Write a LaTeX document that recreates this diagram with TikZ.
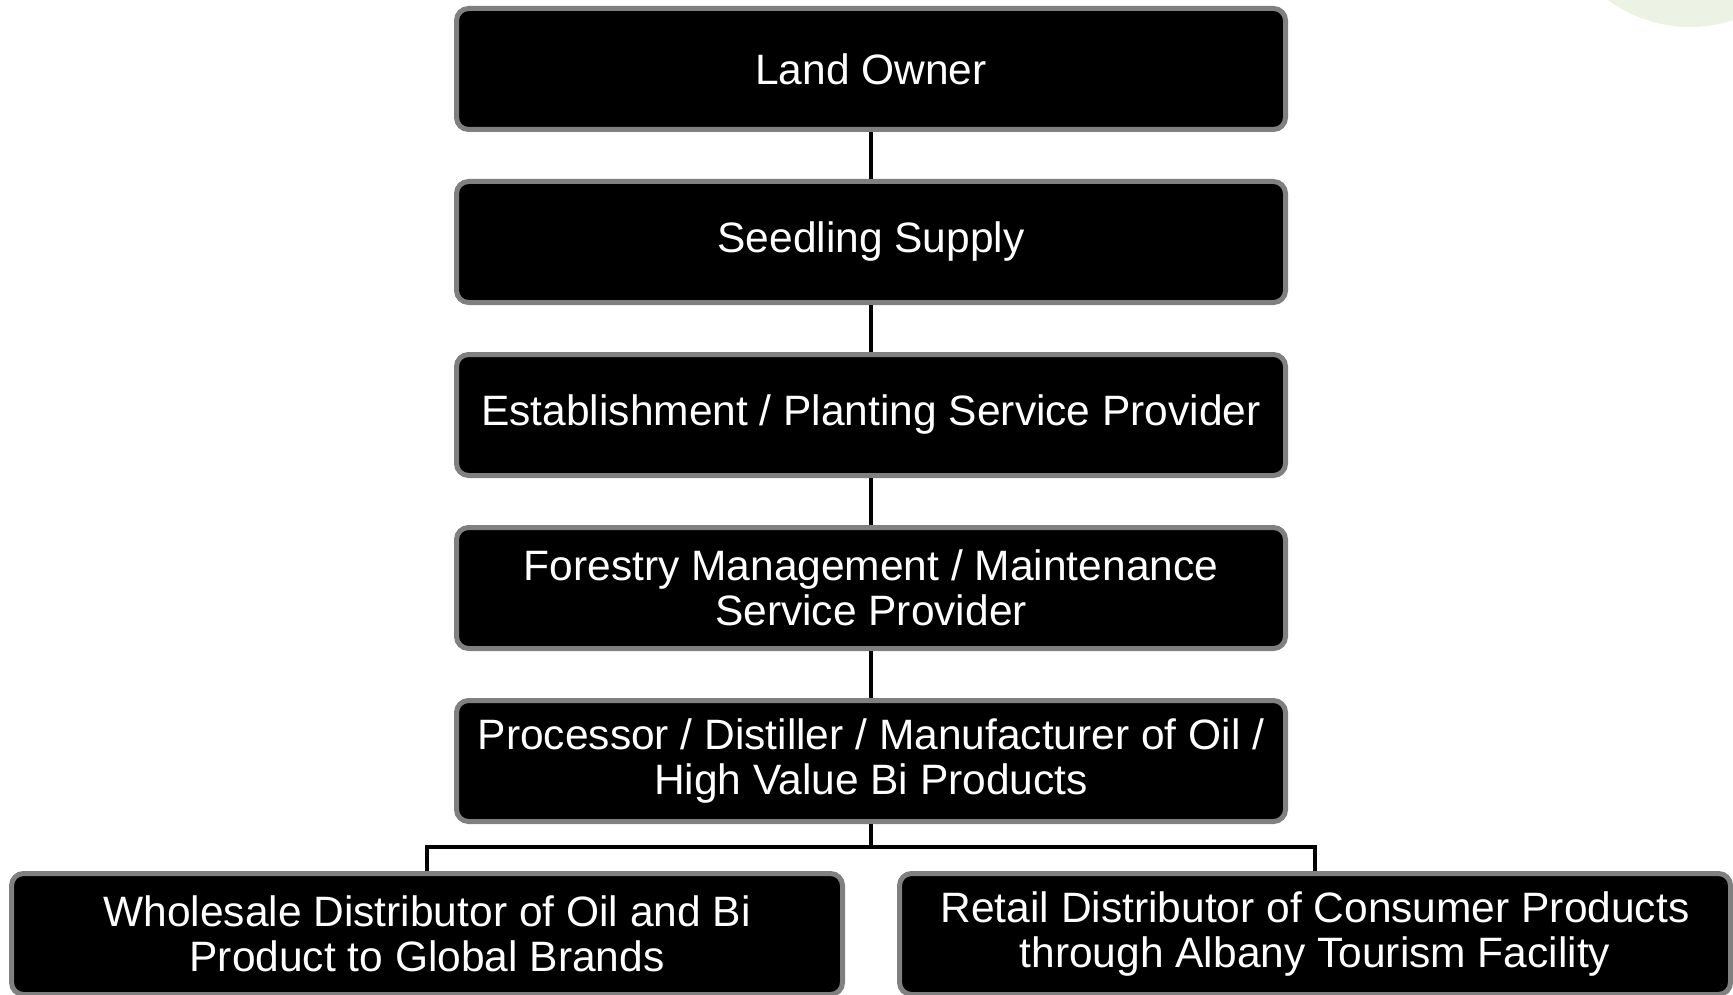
\documentclass[tikz,border=0pt]{standalone}
\usepackage{fontspec}
\setmainfont{Liberation Sans}
\usepackage{xcolor}
\usepackage{tikz}
\usetikzlibrary{positioning}
\definecolor{leafgreen}{RGB}{236,242,228}
\definecolor{rimgrey}{RGB}{128,128,128}

\begin{document}
\begin{tikzpicture}[x=1pt, y=1pt, node distance=47pt,
  chainbox/.style={draw=rimgrey, line width=5pt, fill=black, rounded corners=12pt,
    text=white, align=center, minimum width=829pt, minimum height=121pt,
    font=\fontsize{42.5}{44.5}\selectfont},
  link/.style={line width=4pt}]
\clip (0,0) rectangle (1733,-995);
\fill[leafgreen] (1690,111) circle (138);
\node[chainbox] (owner) at (871,-69) {Land Owner};
\node[chainbox] (seedling) [below=of owner] {Seedling Supply};
\node[chainbox] (planting) [below=of seedling] {Establishment / Planting Service Provider};
\node[chainbox] (forestry) [below=of planting] {Forestry Management / Maintenance\\Service Provider};
\node[chainbox] (processor) [below=of forestry] {Processor / Distiller / Manufacturer of Oil /\\High Value Bi Products};
\node[chainbox, minimum width=831pt] (wholesale) at (427,-934) {Wholesale Distributor of Oil and Bi\\Product to Global Brands};
\node[chainbox, minimum width=831pt] (retail) at (1315,-934) {Retail Distributor of Consumer Products\\through Albany Tourism Facility};
\coordinate (fork) at ([yshift=-23pt]processor.south);
\draw[link] (owner) -- (seedling);
\draw[link] (seedling) -- (planting);
\draw[link] (planting) -- (forestry);
\draw[link] (forestry) -- (processor);
\draw[link] (processor) -- (fork);
%\draw[link] (fork) -| (wholesale);
\draw[link] (wholesale.north) |- (fork) -| (retail.north);
\end{tikzpicture}
\end{document}
